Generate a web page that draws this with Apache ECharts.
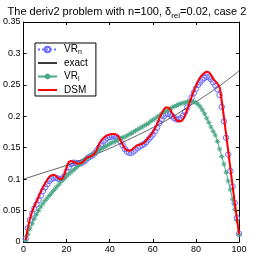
<!DOCTYPE html>
<html><head><meta charset="utf-8">
<script src="https://cdn.jsdelivr.net/npm/echarts@6/dist/echarts.min.js"></script>
<style>html,body{margin:0;padding:0;background:#fff}#c{width:254px;height:255px}</style>
</head><body><div id="c"></div>
<script>
// x positions 1..100 for the iterative solutions
const xIdx = [];
for (let i = 1; i <= 100; i++) xIdx.push(i);

const vrN = [0.005,0.022,0.035,0.045,0.053,0.060,0.067,0.074,0.081,0.087,
0.092,0.097,0.100,0.102,0.102,0.101,0.100,0.101,0.105,0.112,
0.119,0.124,0.126,0.126,0.125,0.125,0.126,0.128,0.131,0.134,
0.136,0.138,0.141,0.145,0.150,0.155,0.160,0.163,0.166,0.167,
0.168,0.168,0.167,0.165,0.160,0.154,0.148,0.144,0.142,0.142,
0.144,0.147,0.150,0.152,0.154,0.156,0.159,0.163,0.167,0.171,
0.176,0.182,0.189,0.195,0.200,0.203,0.204,0.203,0.200,0.197,
0.195,0.195,0.197,0.201,0.207,0.214,0.222,0.230,0.237,0.244,
0.250,0.254,0.258,0.261,0.263,0.262,0.259,0.254,0.249,0.243,
0.234,0.215,0.192,0.166,0.139,0.113,0.088,0.062,0.038,0.013];

const vrL = [0.003,0.012,0.021,0.029,0.037,0.044,0.050,0.056,0.061,0.066,
0.070,0.074,0.078,0.082,0.086,0.090,0.094,0.098,0.101,0.105,
0.108,0.111,0.114,0.117,0.120,0.123,0.126,0.129,0.132,0.134,
0.137,0.139,0.141,0.143,0.146,0.148,0.150,0.152,0.154,0.156,
0.158,0.159,0.161,0.163,0.164,0.166,0.167,0.169,0.171,0.173,
0.175,0.177,0.179,0.181,0.183,0.185,0.187,0.189,0.192,0.194,
0.196,0.199,0.201,0.204,0.206,0.208,0.210,0.212,0.214,0.216,
0.217,0.219,0.220,0.221,0.222,0.223,0.224,0.224,0.223,0.222,
0.219,0.215,0.210,0.204,0.197,0.190,0.183,0.176,0.170,0.160,
0.148,0.136,0.124,0.111,0.097,0.083,0.068,0.052,0.034,0.012];

const dsm = [0.003,0.022,0.037,0.048,0.057,0.064,0.072,0.080,0.087,0.093,
0.099,0.104,0.106,0.107,0.105,0.102,0.100,0.101,0.108,0.119,
0.127,0.129,0.128,0.126,0.125,0.125,0.126,0.129,0.133,0.135,
0.136,0.138,0.141,0.147,0.155,0.161,0.165,0.168,0.170,0.171,
0.172,0.172,0.171,0.168,0.162,0.155,0.149,0.146,0.145,0.146,
0.149,0.152,0.154,0.155,0.156,0.158,0.162,0.166,0.170,0.175,
0.181,0.188,0.196,0.204,0.210,0.214,0.214,0.211,0.205,0.199,
0.194,0.192,0.192,0.195,0.202,0.211,0.221,0.231,0.240,0.248,
0.256,0.262,0.266,0.269,0.271,0.270,0.266,0.260,0.256,0.252,
0.246,0.225,0.199,0.172,0.145,0.117,0.090,0.064,0.038,0.012];

const exactX = [0,10,20,30,40,50,60,70,80,90,100];
const exactY = [0.100,0.111,0.122,0.135,0.149,0.165,0.182,0.201,0.223,0.246,0.272];

const xTicks = [0,20,40,60,80,100];
const yTicks = [0,0.05,0.1,0.15,0.2,0.25,0.3,0.35];

const pairs = (xs, ys) => xs.map((x, i) => [x, ys[i]]);
const FONT = 'Liberation Sans';
const blue = '#6a6aff', green = '#4aa886', red = '#ff0000';
const ast = 'path://M5,0L5,10M0,5L10,5M1.5,1.5L8.5,8.5M8.5,1.5L1.5,8.5';

const legendNames = {
  'VR_n': '{a|VR}{s|n}',
  'exact': '{a|exact}',
  'VR_l': '{a|VR}{s|l}',
  'DSM': '{a|DSM}'
};

const chart = echarts.init(document.getElementById('c'), null, {renderer: 'canvas'});
chart.setOption({
  backgroundColor: '#fff',
  animation: false,
  title: {
    text: '{a|The deriv2 problem with n=100, δ}{s|rel}{a|=0.02, case 2}',
    left: 'center', top: 1,
    textStyle: {
      fontFamily: FONT, fontWeight: 'normal', color: '#000',
      rich: {
        a: {fontFamily: FONT, fontSize: 11, color: '#000', lineHeight: 13, verticalAlign: 'top'},
        s: {fontFamily: FONT, fontSize: 8, color: '#000', lineHeight: 9, padding: [6,0,0,0], verticalAlign: 'top'}
      }
    }
  },
  legend: {
    orient: 'vertical', left: 35, top: 43,
    padding: [0, 8, 1, 2],
    itemWidth: 19, itemHeight: 7, itemGap: 2,
    borderColor: '#000', borderWidth: 1, backgroundColor: '#fff',
    data: [
      {name: 'VR_n'},
      {name: 'exact', itemStyle: {opacity: 0}},
      {name: 'VR_l'},
      {name: 'DSM', itemStyle: {opacity: 0}}
    ],
    formatter: n => legendNames[n],
    textStyle: {
      fontFamily: FONT, color: '#000', fontSize: 10,
      rich: {
        a: {fontFamily: FONT, fontSize: 10, color: '#000', lineHeight: 11, padding: [0,0,0,2]},
        s: {fontFamily: FONT, fontSize: 7, color: '#000', lineHeight: 7, padding: [6,0,0,0]}
      }
    }
  },
  grid: {left: 20, right: 15, top: 22, bottom: 13, containLabel: false},
  xAxis: [{
    type: 'value', min: 0, max: 100, interval: 20,
    axisLine: {show: true, onZero: false, lineStyle: {color: '#000', width: 1}},
    axisTick: {show: true, inside: true, length: 3, lineStyle: {color: '#000'}},
    axisLabel: {fontFamily: FONT, fontSize: 9, color: '#000', margin: 3},
    splitLine: {show: false}
  }, {
    type: 'value', min: 0, max: 100, interval: 20, position: 'top',
    axisLine: {show: true, onZero: false, lineStyle: {color: '#000', width: 1}},
    axisTick: {show: true, inside: true, length: 3, lineStyle: {color: '#000'}},
    axisLabel: {show: false}, splitLine: {show: false}
  }],
  yAxis: [{
    type: 'value', min: 0, max: 0.35, interval: 0.05,
    axisLine: {show: true, onZero: false, lineStyle: {color: '#000', width: 1}},
    axisTick: {show: true, inside: true, length: 3, lineStyle: {color: '#000'}},
    axisLabel: {fontFamily: FONT, fontSize: 9, color: '#000', margin: 3},
    splitLine: {show: false}
  }, {
    type: 'value', min: 0, max: 0.35, interval: 0.05, position: 'right',
    axisLine: {show: true, onZero: false, lineStyle: {color: '#000', width: 1}},
    axisTick: {show: true, inside: true, length: 3, lineStyle: {color: '#000'}},
    axisLabel: {show: false}, splitLine: {show: false}
  }],
  series: [
    {
      name: 'VR_n', type: 'line', data: pairs(xIdx, vrN),
      symbol: 'circle', symbolSize: 5.5, showAllSymbol: true,
      lineStyle: {color: blue, width: 1, type: 'dotted'},
      itemStyle: {color: 'rgba(255,255,255,0)', borderColor: blue, borderWidth: 1},
      z: 2
    },
    {
      name: 'exact', type: 'line', data: pairs(exactX, exactY),
      symbol: 'none', smooth: true,
      lineStyle: {color: '#3a3a3a', width: 0.8},
      itemStyle: {color: '#3a3a3a'},
      z: 3
    },
    {
      name: 'VR_l', type: 'line', data: pairs(xIdx, vrL),
      symbol: ast, symbolSize: 5, showAllSymbol: true,
      lineStyle: {color: green, width: 1},
      itemStyle: {color: 'rgba(255,255,255,0)', borderColor: green, borderWidth: 1},
      z: 4
    },
    {
      name: 'DSM', type: 'line', data: pairs(xIdx, dsm),
      symbol: 'none', smooth: 0.3,
      lineStyle: {color: red, width: 2},
      itemStyle: {color: red},
      z: 5
    }
  ]
});
</script></body></html>
